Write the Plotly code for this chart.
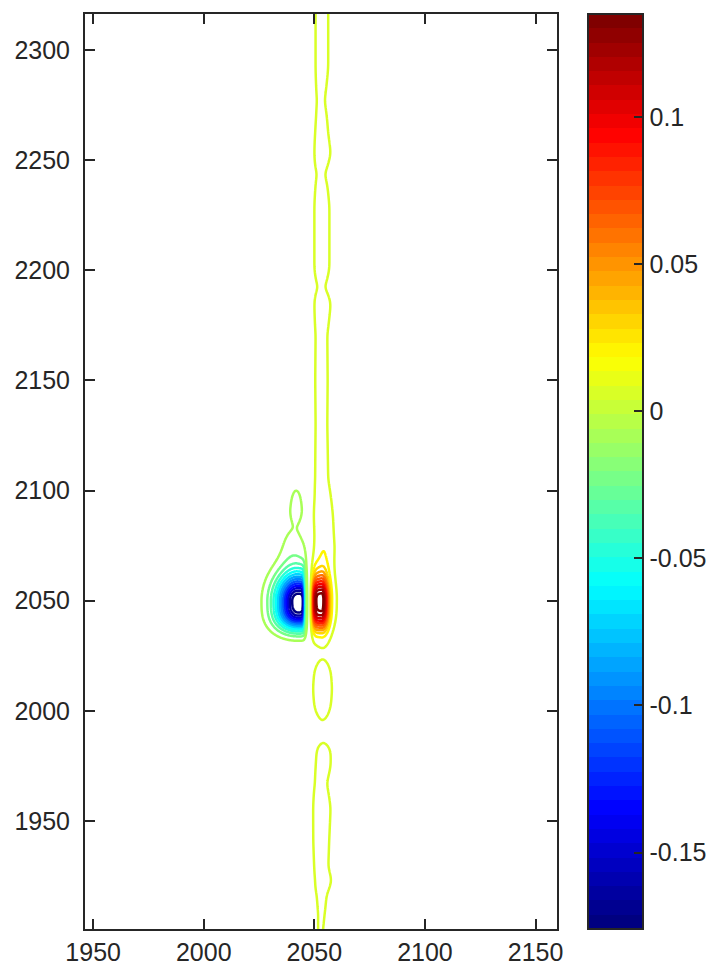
import numpy as np
import plotly.graph_objects as go

# ---------------- axes / ticks ----------------
x_range = [1946.3, 2159.7]
y_range = [1901.0, 2316.3]
x_ticks = [1950, 2000, 2050, 2100, 2150]
y_ticks = [1950, 2000, 2050, 2100, 2150, 2200, 2250, 2300]
cbar_ticks = [-0.15, -0.1, -0.05, 0, 0.05, 0.1]
cbar_text = ["-0.15", "-0.1", "-0.05", "0", "0.05", "0.1"]
z_min, z_max = -0.176, 0.135
level_start, level_end, level_step = -0.164, 0.124, 0.012

# ---------------- spectral features ----------------
# each shape = [low-side width, low-side exponent, high-side width, high-side exponent]
neg_center = [2042.5, 2049.8]
neg_amp = -0.176
neg_x = [6.6, 2, 3.17, 6]
neg_y = [9.8, 3, 8.5, 2]

pos_center = [2053.3, 2050.5]
pos_amp = 0.113
pos_x = [3.55, 6, 2.0, 2]
pos_y = [10.2, 3, 7.4, 2]
wing_amp = 0.0125
wing_x = [3.55, 6, 4.0, 2]

# weak negative tail above the bleach and the small drop at its top
tail_center = [2040.5, 2073.0]
tail_amp = -0.0118
tail_x = [4.5, 2, 4.5, 2]
tail_y = [9.3, 2, 9.3, 2]
drop_center = [2041.8, 2092.0]
drop_amp = -0.0128
drop_x = [2.3, 2, 2.3, 2]
drop_y = [4.5, 2, 8.0, 2]

# narrow positive ridge along the pump axis (amplitude in 1e-3)
ridge_y = [1895, 1901, 1908, 1917, 1923, 1929, 1941, 1956, 1967, 1975, 1982, 1984.5,
           1988, 1996, 2003, 2010, 2017, 2023, 2027, 2031, 2040, 2055, 2066, 2074,
           2080, 2088, 2097, 2105, 2130, 2150, 2171, 2185, 2192, 2201, 2215, 2229,
           2238, 2244, 2253, 2262, 2270, 2277, 2292, 2322]
ridge_amp = [4.1, 4.3, 4.5, 5.3, 8.8, 7.0, 8.2, 9.5, 5.9, 7.6, 7.0, 4.2,
             2.5, 3.6, 9.0, 11.2, 9.0, 3.8, 2.5, 4.0, 6.0, 8.0, 14.0, 15.0,
             13.0, 12.0, 8.5, 6.5, 5.9, 6.2, 5.9, 8.6, 4.2, 7.6, 7.6, 7.6,
             6.0, 4.6, 8.6, 6.5, 5.5, 4.7, 6.3, 6.3]
ridge_cx = [2052.8, 2052.8, 2053.2, 2053.3, 2054.1, 2053.1, 2053.1, 2053.4, 2052.9, 2054.0, 2054.2, 2054.0,
            2054.0, 2053.7, 2053.7, 2053.7, 2053.7, 2053.7, 2053.8, 2053.8, 2053.8, 2053.9, 2054.0, 2054.3,
            2054.2, 2054.0, 2053.8, 2053.3, 2053.2, 2053.2, 2053.2, 2053.7, 2053.1, 2053.4, 2053.4, 2053.4,
            2053.2, 2052.9, 2053.7, 2053.3, 2053.2, 2052.9, 2053.4, 2053.4]
ridge_sigma = 3.0
ridge_smooth = 1.8   # smoothing length along y

# ---------------- build the 2D field ----------------
dy = 0.5
xs = np.arange(2005.0, 2085.01, 0.3)
ys = np.arange(1895.0, 2322.01, dy)
X, Y = np.meshgrid(xs, ys)


def side_profile(d, shape):
    w_lo, p_lo, w_hi, p_hi = shape
    w = np.where(d < 0, w_lo, w_hi)
    p = np.where(d < 0, p_lo, p_hi)
    return np.exp(-0.5 * np.abs(d / w) ** p)


def peak(amp, center, sx, sy):
    return amp * side_profile(X - center[0], sx) * side_profile(Y - center[1], sy)


def smooth(v, s):
    n = int(round(4 * s / dy))
    k = np.arange(-n, n + 1) * dy
    k = np.exp(-0.5 * (k / s) ** 2)
    k /= k.sum()
    vp = np.concatenate([np.full(n, v[0]), v, np.full(n, v[-1])])
    return np.convolve(vp, k, mode="valid")


Z = peak(neg_amp, neg_center, neg_x, neg_y)
Z += peak(pos_amp, pos_center, pos_x, pos_y)
Z += peak(wing_amp, pos_center, wing_x, pos_y)
Z += peak(tail_amp, tail_center, tail_x, tail_y)
Z += peak(drop_amp, drop_center, drop_x, drop_y)
r_amp = smooth(np.interp(ys, ridge_y, ridge_amp) * 1e-3, ridge_smooth)
r_cx = smooth(np.interp(ys, ridge_y, ridge_cx), ridge_smooth)
Z += r_amp[:, None] * np.exp(-0.5 * ((X - r_cx[:, None]) / ridge_sigma) ** 2)
Z = np.round(Z, 6)

# ---------------- jet colormap (64 steps) ----------------
def jet(t):
    r = np.clip(1.5 - abs(4 * t - 3), 0, 1)
    g = np.clip(1.5 - abs(4 * t - 2), 0, 1)
    b = np.clip(1.5 - abs(4 * t - 1), 0, 1)
    return f"rgb({int(round(r * 255))},{int(round(g * 255))},{int(round(b * 255))})"


N = 64
jet_steps = []
for i in range(N):
    c = jet(i / (N - 1))
    jet_steps.append([i / N, c])
    jet_steps.append([(i + 1) / N, c])

AX = "#262626"
FONT = "Liberation Sans, Arial, Helvetica, sans-serif"
FS = 25

fig = go.Figure()
fig.add_trace(go.Contour(
    x=xs, y=ys, z=Z,
    zmin=z_min, zmax=z_max, zauto=False,
    colorscale=jet_steps,
    contours=dict(coloring="lines", start=level_start, end=level_end, size=level_step),
    line=dict(width=2.5, smoothing=1),
    showscale=False, hoverinfo="skip",
))
fig.add_trace(go.Scatter(
    x=[2000], y=[2200], mode="markers", hoverinfo="skip", showlegend=False,
    marker=dict(size=1, opacity=0, color=[0], cmin=z_min, cmax=z_max,
                colorscale=jet_steps, showscale=True,
                colorbar=dict(
                    x=(588 - 85) / 472, xanchor="left", xpad=0,
                    y=0.5, yanchor="middle", ypad=0,
                    len=1, lenmode="fraction",
                    thickness=55, thicknessmode="pixels",
                    outlinewidth=2, outlinecolor=AX,
                    ticks="inside", ticklen=10, tickwidth=2, tickcolor=AX,
                    tickvals=cbar_ticks, ticktext=cbar_text,
                    tickfont=dict(size=FS, color=AX, family=FONT),
                )),
))

axis_common = dict(
    showline=True, linewidth=2, linecolor=AX, mirror="allticks",
    ticks="inside", ticklen=10, tickwidth=2, tickcolor=AX,
    showgrid=False, zeroline=False,
    tickfont=dict(size=FS, color=AX, family=FONT),
)
fig.update_xaxes(range=x_range, tickvals=x_ticks, ticktext=[str(v) for v in x_ticks], **axis_common)
fig.update_yaxes(range=y_range, tickvals=y_ticks, ticktext=[str(v) for v in y_ticks],
                 ticklabelstandoff=8, **axis_common)

fig.update_layout(
    width=711, height=967,
    margin=dict(l=85, r=154, t=14, b=38, autoexpand=False),
    plot_bgcolor="white", paper_bgcolor="white",
    font=dict(family=FONT, color=AX),
    showlegend=False,
)

fig.write_html("out.html")
